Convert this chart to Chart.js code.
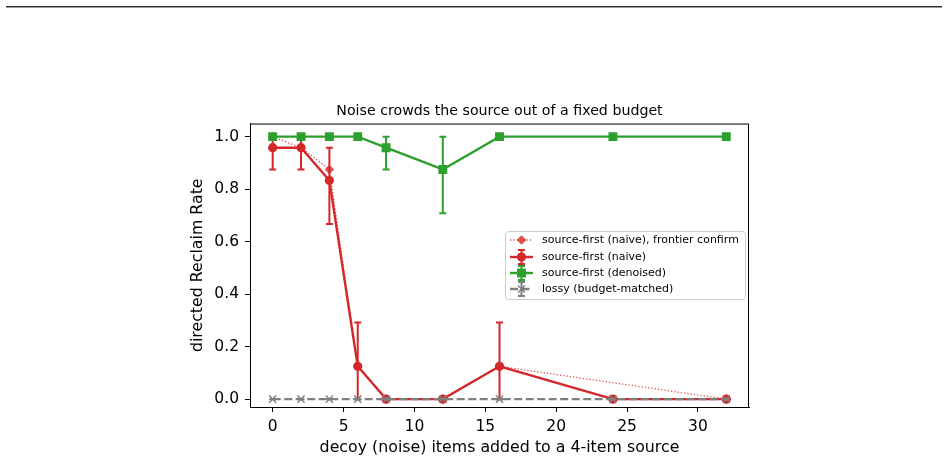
<!DOCTYPE html>
<html>
<head>
<meta charset="utf-8">
<script src="https://cdn.jsdelivr.net/npm/chart.js@4.4.1/dist/chart.umd.min.js"></script>
<style>
  html, body { margin: 0; padding: 0; background: #fff; }
  #wrap { width: 948px; height: 462px; }
</style>
</head>
<body>
<div id="wrap"><canvas id="reclaimChart" width="948" height="462"></canvas></div>
<script>
// x = decoy items added, y = directed reclaim rate
const noiseItems = [0, 2, 4, 6, 8, 12, 16, 24, 32];
const frontierItems = [0, 2, 4, 6, 8, 12, 16, 32];

const frontierRate = [1.0, 0.958, 0.875, 0.125, 0, 0, 0.125, 0];

const naiveRate = [0.958, 0.958, 0.833, 0.125, 0, 0, 0.125, 0, 0];
const naiveLow  = [0.875, 0.875, 0.667, 0, 0, 0, 0, 0, 0];
const naiveHigh = [1.0, 1.0, 0.958, 0.292, 0, 0, 0.292, 0, 0];

const denoisedRate = [1, 1, 1, 1, 0.958, 0.875, 1, 1, 1];
const denoisedLow  = [1, 1, 1, 1, 0.875, 0.708, 1, 1, 1];
const denoisedHigh = [1, 1, 1, 1, 1.0, 1.0, 1, 1, 1];

const lossyRate = [0, 0, 0, 0, 0, 0, 0, 0, 0];
const lossyLow  = [0, 0, 0, 0, 0, 0, 0, 0, 0];
const lossyHigh = [0, 0, 0, 0, 0, 0, 0, 0, 0];

const xTicks = [0, 5, 10, 15, 20, 25, 30];
const yTicks = [0, 0.2, 0.4, 0.6, 0.8, 1.0];

const legendLabels = [
    'source-first (naive), frontier confirm',
    'source-first (naive)',
    'source-first (denoised)',
    'lossy (budget-matched)'
];

const FONT = "'DejaVu Sans', sans-serif";
const RED = '#d62728';
const RED_LIGHT = 'rgba(214,39,40,0.8)';
const GREEN = '#2ca02c';
const GRAY = '#7f7f7f';

function pts(xs, ys) {
    return xs.map((x, i) => ({ x: x, y: ys[i] }));
}

function marker(ctx, style, x, y, r, color) {
    ctx.save();
    ctx.fillStyle = color;
    ctx.strokeStyle = color;
    ctx.lineWidth = 1.4;
    ctx.setLineDash([]);
    ctx.beginPath();
    if (style === 'circle') {
        ctx.arc(x, y, r, 0, Math.PI * 2);
        ctx.fill();
    } else if (style === 'rect') {
        const s = r * Math.SQRT1_2;
        ctx.rect(x - s, y - s, 2 * s, 2 * s);
        ctx.fill();
    } else if (style === 'rectRot') {
        ctx.moveTo(x, y - r); ctx.lineTo(x + r, y); ctx.lineTo(x, y + r); ctx.lineTo(x - r, y);
        ctx.closePath();
        ctx.fill();
    } else if (style === 'crossRot') {
        const s = r * Math.SQRT1_2;
        ctx.moveTo(x - s, y - s); ctx.lineTo(x + s, y + s);
        ctx.moveTo(x - s, y + s); ctx.lineTo(x + s, y - s);
        ctx.stroke();
    }
    ctx.restore();
}

const errorBars = {
    id: 'errorBars',
    beforeDatasetDraw(chart, args) {
        const ds = chart.data.datasets[args.index];
        if (!ds.errLow) return;
        const { ctx, scales: { x, y } } = chart;
        ctx.save();
        ctx.strokeStyle = ds.borderColor;
        ctx.lineWidth = 2;
        ds.data.forEach((p, i) => {
            const px = x.getPixelForValue(p.x);
            const lo = y.getPixelForValue(ds.errLow[i]);
            const hi = y.getPixelForValue(ds.errHigh[i]);
            ctx.beginPath();
            ctx.moveTo(px, lo); ctx.lineTo(px, hi);
            ctx.moveTo(px - 3.5, lo); ctx.lineTo(px + 3.5, lo);
            ctx.moveTo(px - 3.5, hi); ctx.lineTo(px + 3.5, hi);
            ctx.stroke();
        });
        ctx.restore();
    }
};

const frame = {
    id: 'frame',
    beforeDraw(chart) {
        const ctx = chart.ctx;
        ctx.save();
        ctx.fillStyle = '#fff';
        ctx.fillRect(0, 0, chart.width, chart.height);
        ctx.fillStyle = '#333';
        ctx.fillRect(6, 6, 936, 1.5);
        ctx.restore();
    },
    afterDraw(chart) {
        const { ctx, chartArea: a } = chart;
        ctx.save();
        ctx.strokeStyle = '#000';
        ctx.lineWidth = 1;
        ctx.strokeRect(a.left + 0.5, a.top + 0.5, a.right - a.left - 1, a.bottom - a.top);
        ctx.restore();
    }
};

const boxLegend = {
    id: 'boxLegend',
    afterDraw(chart) {
        const ctx = chart.ctx;
        const bx = 505, by = 231, bw = 240, bh = 68;
        ctx.save();
        ctx.fillStyle = 'rgba(255,255,255,0.8)';
        ctx.strokeStyle = '#cccccc';
        ctx.lineWidth = 1;
        ctx.beginPath();
        ctx.roundRect(bx + 0.5, by + 0.5, bw, bh, 3);
        ctx.fill();
        ctx.stroke();

        const rowY = [240, 257, 273, 289];
        ctx.font = '11px ' + FONT;
        ctx.textBaseline = 'middle';
        [0, 1, 2, 3].forEach((di, k) => {
            const ds = chart.data.datasets[di];
            const y = rowY[k];
            const x0 = 510, x1 = 533, cx = (x0 + x1) / 2;
            ctx.save();
            ctx.strokeStyle = ds.borderColor;
            ctx.lineWidth = ds.borderWidth;
            ctx.setLineDash(ds.borderDash || []);
            ctx.beginPath();
            ctx.moveTo(x0, y); ctx.lineTo(x1, y);
            ctx.stroke();
            ctx.setLineDash([]);
            if (ds.errLow) {
                ctx.lineWidth = 2;
                ctx.beginPath();
                ctx.moveTo(cx, y - 7); ctx.lineTo(cx, y + 7);
                ctx.moveTo(cx - 3.5, y - 7); ctx.lineTo(cx + 3.5, y - 7);
                ctx.moveTo(cx - 3.5, y + 7); ctx.lineTo(cx + 3.5, y + 7);
                ctx.stroke();
            }
            ctx.restore();
            marker(ctx, ds.pointStyle, cx, y, ds.pointRadius, ds.pointBackgroundColor);
            ctx.fillStyle = '#000';
            ctx.fillText(legendLabels[k], 542, y + 0.5);
        });
        ctx.restore();
    }
};

const chart = new Chart(document.getElementById('reclaimChart').getContext('2d'), {
    type: 'line',
    data: {
        datasets: [
            {
                data: pts(frontierItems, frontierRate),
                borderColor: RED_LIGHT,
                borderWidth: 1.3,
                borderDash: [1.3, 2],
                pointStyle: 'rectRot',
                pointRadius: 4.8,
                pointBackgroundColor: RED_LIGHT,
                pointBorderColor: RED_LIGHT,
                pointBorderWidth: 0,
                tension: 0,
                order: 4
            },
            {
                data: pts(noiseItems, naiveRate),
                errLow: naiveLow,
                errHigh: naiveHigh,
                borderColor: RED,
                borderWidth: 2.4,
                pointStyle: 'circle',
                pointRadius: 4.6,
                pointBackgroundColor: RED,
                pointBorderColor: RED,
                pointBorderWidth: 0,
                tension: 0,
                order: 3
            },
            {
                data: pts(noiseItems, denoisedRate),
                errLow: denoisedLow,
                errHigh: denoisedHigh,
                borderColor: GREEN,
                borderWidth: 2.4,
                pointStyle: 'rect',
                pointRadius: 6.3,
                pointBackgroundColor: GREEN,
                pointBorderColor: GREEN,
                pointBorderWidth: 0,
                tension: 0,
                order: 2
            },
            {
                data: pts(noiseItems, lossyRate),
                errLow: lossyLow,
                errHigh: lossyHigh,
                borderColor: GRAY,
                borderWidth: 2.4,
                borderDash: [8, 3.5],
                pointStyle: 'crossRot',
                pointRadius: 5,
                pointBackgroundColor: GRAY,
                pointBorderColor: GRAY,
                pointBorderWidth: 1.5,
                tension: 0,
                order: 1
            }
        ]
    },
    options: {
        responsive: false,
        animation: false,
        layout: {
            padding: { left: 184, right: 199, top: 103, bottom: 0 }
        },
        scales: {
            x: {
                type: 'linear',
                min: -1.6,
                max: 33.6,
                afterBuildTicks: (s) => { s.ticks = xTicks.map(v => ({ value: v })); },
                afterFit: (s) => { s.height = 55; },
                ticks: {
                    color: '#000',
                    font: { family: FONT, size: 15.5 },
                    padding: 6,
                    maxRotation: 0,
                    callback: (v) => String(v)
                },
                grid: { drawOnChartArea: false, drawTicks: true, tickLength: 5, tickColor: '#000' },
                border: { display: true, color: '#000', width: 1 },
                title: {
                    display: true,
                    text: 'decoy (noise) items added to a 4-item source',
                    color: '#000',
                    font: { family: FONT, size: 15.8 },
                    padding: { top: 0, bottom: 5 }
                }
            },
            y: {
                type: 'linear',
                min: -0.03,
                max: 1.05,
                afterBuildTicks: (s) => { s.ticks = yTicks.map(v => ({ value: v })); },
                afterFit: (s) => { s.width = 66; },
                ticks: {
                    color: '#000',
                    font: { family: FONT, size: 15.5 },
                    padding: 6,
                    callback: (v) => v.toFixed(1)
                },
                grid: { drawOnChartArea: false, drawTicks: true, tickLength: 5, tickColor: '#000' },
                border: { display: true, color: '#000', width: 1 },
                title: {
                    display: true,
                    text: 'directed Reclaim Rate',
                    color: '#000',
                    font: { family: FONT, size: 15.8 },
                    padding: { top: 4, bottom: 0 }
                }
            }
        },
        plugins: {
            legend: { display: false },
            tooltip: { enabled: false },
            title: {
                display: true,
                fullSize: false,
                text: 'Noise crowds the source out of a fixed budget',
                color: '#000',
                font: { family: FONT, size: 14.2, weight: 'normal' },
                padding: { top: 0, bottom: 3.5 }
            }
        }
    },
    plugins: [frame, errorBars, boxLegend]
});
</script>
</body>
</html>
